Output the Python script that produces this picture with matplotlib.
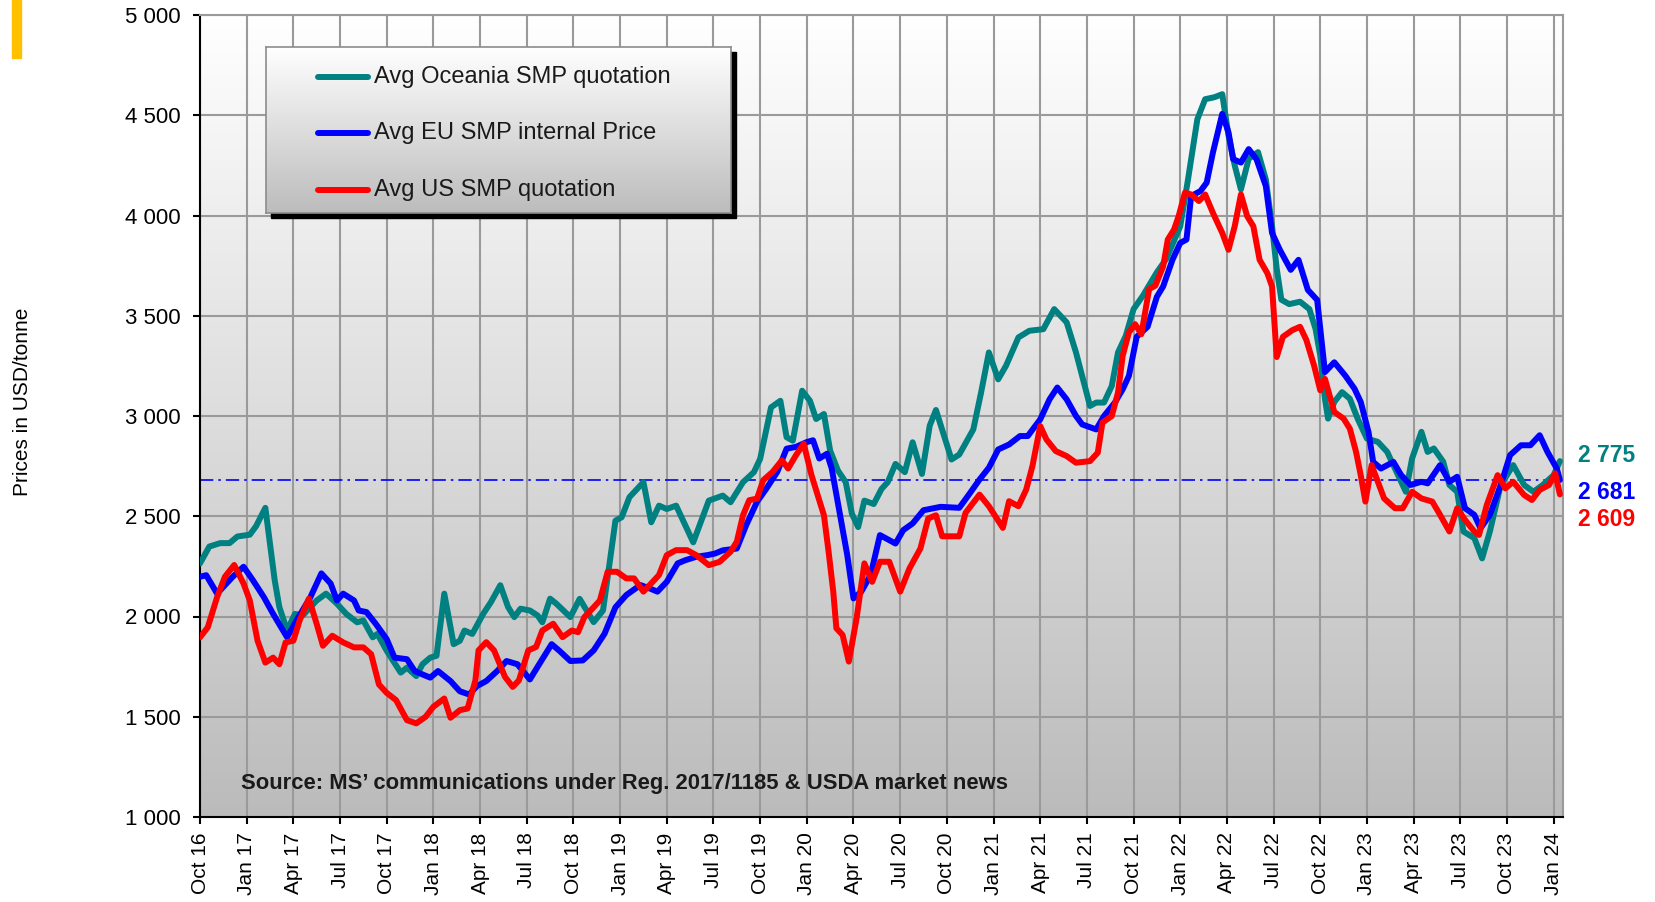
import numpy as np
import pandas as pd
import matplotlib
matplotlib.use("Agg")
import matplotlib.pyplot as plt
import matplotlib.transforms as mtransforms
from matplotlib.patches import Rectangle
from matplotlib.colors import LinearSegmentedColormap

plt.rcParams["font.family"] = ["Liberation Sans", "DejaVu Sans"]

# -----------------------------
# Data  (x = months since Oct 2016, y = USD/tonne)
# -----------------------------

oce_month = [0, 0.6, 1.3, 1.9, 2.4, 3.2, 3.6, 4.2, 4.8, 5.1, 5.6, 6.1, 6.6, 7.5, 8.1, 8.8,
             9.4, 10.1, 10.5, 11.1, 11.4, 12.0, 12.9, 13.3, 13.9, 14.3, 14.8, 15.2, 15.7,
             16.3, 16.7, 17.0, 17.5, 18.2, 18.7, 19.3, 19.8, 20.2, 20.6, 21.2, 21.7, 22.0,
             22.5, 22.9, 23.8, 24.4, 25.3, 25.9, 26.2, 26.7, 27.1, 27.6, 28.5, 29.0, 29.5,
             30.0, 30.6, 31.7, 32.7, 33.6, 34.1, 34.9, 35.6, 36.0, 36.7, 37.3, 37.7, 38.1,
             38.7, 39.2, 39.6, 40.1, 40.5, 41.0, 41.5, 41.9, 42.3, 42.7, 43.3, 43.8, 44.2,
             44.7, 45.3, 45.8, 46.4, 46.9, 47.3, 48.3, 48.8, 49.7, 50.2, 50.7, 51.3, 51.8,
             52.6, 53.3, 54.2, 54.9, 55.7, 56.3, 57.2, 57.6, 58.1, 58.6, 59.0, 59.5, 60.0,
             60.6, 61.5, 62.1, 63.0, 63.5, 64.1, 64.6, 65.2, 65.7, 66.1, 66.5, 66.9, 67.4,
             68.0, 68.5, 68.9, 69.2, 69.5, 70.0, 70.7, 71.3, 71.7, 72.0, 72.3, 72.5, 72.9,
             73.4, 73.9, 74.4, 75.0, 75.7, 76.3, 77.0, 77.5, 77.9, 78.5, 78.9, 79.3, 79.9,
             80.3, 80.8, 81.2, 81.9, 82.4, 82.9, 83.6, 84.4, 85.1, 85.7, 86.3, 87.0, 87.4]
oce_price = [2265, 2349, 2366, 2366, 2399, 2408, 2450, 2542, 2181, 2047, 1930, 2013, 2005, 2080,
             2114, 2064, 2013, 1971, 1980, 1896, 1913, 1829, 1720, 1745, 1703, 1762, 1795, 1804,
             2114, 1862, 1879, 1930, 1913, 2013, 2072, 2156, 2047, 1997, 2039, 2030, 2005, 1971,
             2089, 2064, 1997, 2088, 1972, 2030, 2196, 2478, 2495, 2595, 2670, 2470, 2553, 2536,
             2553, 2370, 2578, 2603, 2570, 2670, 2720, 2786, 3043, 3076, 2894, 2877, 3126, 3076,
             2985, 3010, 2827, 2728, 2670, 2512, 2446, 2578, 2561, 2636, 2670, 2761, 2720, 2869,
             2711, 2952, 3030, 2783, 2808, 2933, 3117, 3317, 3183, 3250, 3392, 3425, 3433, 3533,
             3467, 3317, 3050, 3067, 3067, 3150, 3317, 3400, 3533, 3600, 3717, 3783, 3946, 4180,
             4480, 4580, 4590, 4605, 4400, 4250, 4130, 4283, 4316, 4180, 3946, 3735, 3580, 3558,
             3570, 3533, 3433, 3301, 3086, 2987, 3070, 3119, 3086, 2987, 2887, 2871, 2821, 2705,
             2622, 2788, 2921, 2821, 2838, 2772, 2656, 2622, 2424, 2391, 2290, 2424, 2656, 2755,
             2656, 2622, 2656, 2705, 2775]

eu_month = [0, 0.4, 1.1, 1.7, 2.1, 2.8, 3.4, 4.1, 4.7, 5.6, 6.2, 7.1, 7.8, 8.4, 8.8, 9.2, 9.9,
            10.2, 10.7, 11.3, 12.0, 12.5, 13.3, 13.8, 14.3, 14.8, 15.3, 16.1, 16.7, 17.3, 17.8,
            18.4, 19.1, 19.7, 20.4, 21.2, 21.8, 22.6, 23.1, 23.8, 24.6, 25.3, 26.0, 26.7, 27.4,
            28.3, 28.9, 29.4, 30.0, 30.7, 31.2, 31.9, 32.6, 33.1, 33.6, 34.5, 35.1, 35.8, 36.4,
            37.1, 37.7, 38.3, 39.0, 39.4, 39.8, 40.3, 40.6, 41.1, 41.6, 42.0, 42.5, 43.1, 43.7,
            44.1, 44.7, 45.2, 45.8, 46.5, 47.6, 48.8, 49.5, 50.1, 50.7, 51.3, 52.0, 52.7, 53.2,
            54.0, 54.6, 55.1, 55.7, 56.3, 56.7, 57.6, 58.1, 58.8, 59.3, 59.7, 60.2, 60.9, 61.5,
            61.9, 62.5, 63.0, 63.4, 63.7, 64.3, 64.7, 65.1, 65.7, 66.1, 66.4, 66.9, 67.4, 67.9,
            68.5, 68.9, 69.4, 70.1, 70.6, 71.2, 71.8, 72.3, 72.9, 73.6, 74.2, 74.6, 75.1, 75.4,
            75.9, 76.7, 77.2, 77.8, 78.5, 78.9, 79.7, 80.3, 80.8, 81.3, 81.9, 82.3, 82.9, 83.6,
            84.2, 84.9, 85.5, 86.1, 86.6, 87.2, 87.4]
eu_price = [2198, 2206, 2114, 2164, 2198, 2248, 2181, 2097, 2013, 1896, 1980, 2097, 2215, 2164,
            2080, 2114, 2080, 2030, 2022, 1963, 1887, 1795, 1787, 1728, 1711, 1695, 1728, 1678,
            1627, 1611, 1653, 1678, 1728, 1778, 1762, 1686, 1762, 1862, 1829, 1778, 1781, 1831,
            1914, 2046, 2107, 2157, 2140, 2124, 2173, 2265, 2281, 2298, 2306, 2314, 2330, 2339,
            2455, 2572, 2638, 2721, 2837, 2846, 2870, 2879, 2788, 2812, 2738, 2522, 2306, 2090,
            2124, 2207, 2406, 2389, 2364, 2431, 2464, 2530, 2547, 2542, 2617, 2683, 2742, 2833,
            2858, 2900, 2900, 2983, 3083, 3142, 3083, 3000, 2958, 2933, 3000, 3067, 3133, 3200,
            3395, 3445, 3595, 3646, 3779, 3863, 3880, 4097, 4122, 4164, 4314, 4507, 4415, 4281,
            4264, 4331, 4281, 4147, 3913, 3829, 3729, 3779, 3629, 3579, 3219, 3268, 3202, 3136,
            3070, 2920, 2771, 2738, 2771, 2705, 2656, 2672, 2664, 2755, 2672, 2697, 2540, 2507,
            2440, 2507, 2656, 2805, 2854, 2854, 2904, 2821, 2738, 2681]

us_month = [0, 0.5, 1.1, 1.6, 2.2, 2.8, 3.2, 3.7, 4.2, 4.7, 5.1, 5.5, 6.0, 6.4, 7.0, 7.5, 7.9,
            8.5, 9.2, 9.9, 10.5, 11.0, 11.5, 12.0, 12.6, 13.3, 13.9, 14.5, 15.0, 15.7, 16.1,
            16.7, 17.2, 17.7, 17.9, 18.4, 18.9, 19.6, 20.1, 20.5, 21.1, 21.6, 22.0, 22.7, 23.3,
            23.9, 24.3, 24.7, 25.3, 25.7, 26.2, 26.8, 27.4, 27.9, 28.5, 29.0, 29.5, 30.0, 30.6,
            31.3, 31.9, 32.7, 33.4, 34.1, 34.5, 34.9, 35.3, 35.8, 36.2, 36.8, 37.4, 37.8, 38.3,
            38.8, 39.3, 39.7, 40.1, 40.4, 40.7, 40.9, 41.3, 41.7, 42.2, 42.7, 43.2, 43.7, 44.3,
            45.0, 45.6, 46.3, 46.8, 47.3, 47.7, 48.8, 49.2, 50.1, 50.7, 51.6, 52.0, 52.6, 53.1,
            53.5, 54.0, 54.4, 55.0, 55.7, 56.3, 57.2, 57.7, 58.0, 58.6, 59.0, 59.3, 59.7, 60.1,
            60.5, 61.0, 61.4, 61.9, 62.2, 62.6, 62.9, 63.3, 63.7, 64.2, 64.6, 65.1, 65.7, 66.1,
            66.5, 66.9, 67.3, 67.7, 68.1, 68.6, 68.9, 69.2, 69.6, 70.2, 70.7, 71.1, 71.6, 72.0,
            72.3, 72.6, 72.9, 73.5, 73.9, 74.3, 74.6, 74.9, 75.3, 75.7, 76.1, 76.8, 77.3, 77.9,
            78.5, 79.2, 79.7, 80.3, 80.8, 81.3, 81.9, 82.2, 82.7, 83.4, 83.9, 84.4, 85.1, 85.6,
            86.1, 86.7, 87.1, 87.4]
us_price = [1896, 1946, 2097, 2198, 2257, 2164, 2080, 1879, 1770, 1795, 1762, 1871, 1879, 1980,
            2089, 1963, 1854, 1904, 1871, 1846, 1846, 1812, 1661, 1619, 1583, 1483, 1467, 1500,
            1550, 1591, 1495, 1533, 1541, 1682, 1831, 1872, 1831, 1699, 1649, 1682, 1831, 1848,
            1930, 1964, 1897, 1930, 1922, 1997, 2046, 2080, 2223, 2223, 2190, 2190, 2124, 2165,
            2207, 2306, 2331, 2331, 2306, 2256, 2273, 2323, 2373, 2505, 2580, 2588, 2680, 2721,
            2779, 2738, 2804, 2862, 2705, 2605, 2505, 2323, 2124, 1941, 1908, 1775, 1991, 2265,
            2173, 2273, 2273, 2124, 2240, 2339, 2489, 2505, 2400, 2400, 2517, 2608, 2550, 2442,
            2575, 2550, 2633, 2750, 2950, 2883, 2825, 2800, 2767, 2775, 2817, 2967, 3000, 3117,
            3300, 3417, 3458, 3408, 3633, 3650, 3746, 3880, 3930, 3997, 4114, 4105, 4072, 4105,
            4013, 3913, 3829, 3946, 4105, 3997, 3946, 3779, 3712, 3646, 3294, 3395, 3428, 3445,
            3380, 3252, 3128, 3185, 3103, 3020, 2987, 2937, 2821, 2705, 2573, 2755, 2672, 2589,
            2540, 2540, 2622, 2589, 2573, 2507, 2424, 2540, 2482, 2424, 2407, 2556, 2705, 2639,
            2672, 2606, 2581, 2631, 2656, 2714, 2609]

series_names = ["Avg Oceania SMP quotation", "Avg EU SMP internal Price", "Avg US SMP quotation"]
series_colors = ["#008080", "#0000ff", "#ff0000"]
label_offsets = [4, -9, -18]   # points, to keep the end labels apart

tick_months = list(range(0, 88, 3))
tick_labels = list(pd.date_range("2016-10-01", "2024-01-01", freq="QS-OCT").strftime("%b %y"))
y_ticks = list(range(1000, 5001, 500))

source_text = "Source: MS\u2019 communications under Reg. 2017/1185 & USDA market news"

# -----------------------------
# Figure / axes
# -----------------------------

W, H = 1655, 902
fig = plt.figure(figsize=(W / 100, H / 100), dpi=100)
ax = fig.add_axes([200 / W, 1 - 817 / H, (1563 - 200) / W, (817 - 15) / H])

grey_cmap = LinearSegmentedColormap.from_list("bg", ["#bbbbbb", "#ffffff"])
grad = np.linspace(1, 0, 256).reshape(-1, 1)
ax.imshow(grad, extent=[0, 1, 0, 1], transform=ax.transAxes, aspect="auto",
          cmap=grey_cmap, zorder=-1)

months = [oce_month, eu_month, us_month]
prices = [oce_price, eu_price, us_price]
for m, p, c in zip(months, prices, series_colors):
    ax.plot(m, p, color=c, lw=4.3, solid_joinstyle="round", solid_capstyle="round", zorder=3)

ax.axhline(eu_price[-1], color="#0000ff", lw=1.2, ls=(0, (8, 3, 1.5, 3)), zorder=2.5)

ax.set_xlim(0, 87.6)
ax.set_ylim(1000, 5000)
ax.set_xticks(tick_months)
ax.set_xticklabels(tick_labels, rotation=90, fontsize=15)
ax.set_yticks(y_ticks)
ax.set_yticklabels([f"{v:,}".replace(",", " ") for v in y_ticks], fontsize=16)
ax.tick_params(axis="y", length=5, width=1.5, pad=9)
ax.tick_params(axis="x", length=5, width=1.5, pad=6)

ax.set_axisbelow(True)
ax.grid(True, color="#9a9a9a", lw=1.5)
for side in ["left", "bottom"]:
    ax.spines[side].set_color("black")
    ax.spines[side].set_linewidth(1.5)
for side in ["top", "right"]:
    ax.spines[side].set_color("#9a9a9a")
    ax.spines[side].set_linewidth(1.5)

ax.text(0.030, 0.042, source_text, transform=ax.transAxes, fontsize=15.8,
        fontweight="bold", color="#1a1a1a", va="center", ha="left")

# last values on the right
blend = mtransforms.blended_transform_factory(ax.transAxes, ax.transData)
for p, c, off in zip(prices, series_colors, label_offsets):
    ax.annotate(f"{p[-1]:,}".replace(",", " "), xy=(1.011, p[-1]), xycoords=blend,
                xytext=(0, off), textcoords="offset points", ha="left", va="center",
                fontsize=16.5, fontweight="bold", color=c, annotation_clip=False)

fig.text(23 / W, 1 - 402 / H, "Prices in USD/tonne", rotation=90, fontsize=15,
         ha="center", va="center")

# orange mark top-left
fig.add_artist(Rectangle((12 / W, 1 - 58 / H), 9 / W, 58 / H, transform=fig.transFigure,
                         color="#ffc000", zorder=1))

# -----------------------------
# Legend box (gradient + shadow)
# -----------------------------

lx0, ly0, lx1, ly1 = 266, 47, 731, 213
fig.add_artist(Rectangle(((lx0 + 5) / W, 1 - (ly1 + 5) / H), (lx1 - lx0) / W, (ly1 - ly0) / H,
                         transform=fig.transFigure, color="black", zorder=1))
lax = fig.add_axes([lx0 / W, 1 - ly1 / H, (lx1 - lx0) / W, (ly1 - ly0) / H])
lax.set_zorder(2)
lax.imshow(grad, extent=[0, 1, 0, 1], aspect="auto",
           cmap=LinearSegmentedColormap.from_list("lg", ["#bcbcbc", "#ffffff"]))
lax.set_xlim(0, 1)
lax.set_ylim(0, 1)
lax.set_xticks([])
lax.set_yticks([])
for s in lax.spines.values():
    s.set_color("#8c8c8c")
    s.set_linewidth(1.2)

entry_y = [0.82, 0.482, 0.14]
for name, c, yy in zip(series_names, series_colors, entry_y):
    lax.plot([0.112, 0.219], [yy, yy], color=c, lw=4.3, solid_capstyle="round")
    lax.text(0.232, yy, name, fontsize=17, va="center", ha="left", color="#1a1a1a")

fig.savefig("out.png", dpi=100)
